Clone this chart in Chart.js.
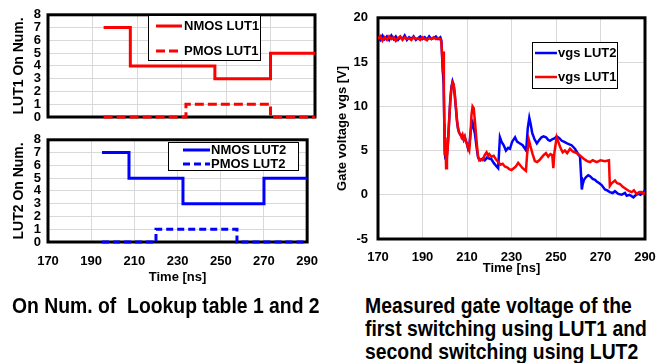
<!DOCTYPE html>
<html>
<head>
<meta charset="utf-8">
<script src="https://cdn.jsdelivr.net/npm/chart.js@4.4.1/dist/chart.umd.min.js"></script>
<style>
  body { margin: 0; background: #fff; width: 671px; height: 363px; overflow: hidden; position: relative; font-family: "Liberation Sans", Arial, sans-serif; }
  canvas { position: absolute; }
  .cap { position: absolute; font-weight: bold; font-size: 22px; line-height: 23px; transform: scaleX(0.88); transform-origin: 0 0; white-space: nowrap; color: #000; }
</style>
</head>
<body>
<canvas id="lut1" width="330" height="136" style="left:0;top:0"></canvas>
<canvas id="lut2" width="330" height="160" style="left:0;top:125px"></canvas>
<canvas id="vgs" width="341" height="280" style="left:330px;top:0"></canvas>
<div class="cap" style="left:12px;top:294px">On Num. of&nbsp; Lookup table 1 and 2</div>
<div class="cap" style="left:365px;top:294px">Measured gate voltage of the<br>first switching using LUT1 and<br>second switching using LUT2</div>
<script>
// Lookup table on-numbers (step values, held until the next time)
var nmos1Time = [195, 207, 245, 270, 290];
var nmos1On = [7, 4, 3, 5, 5];
var pmos1Time = [195, 232, 270, 290];
var pmos1On = [0, 1, 0, 0];
var nmos2Time = [195, 207.5, 232.5, 270, 290];
var nmos2On = [7, 5, 3, 5, 5];
var pmos2Time = [195, 220, 257.5, 290];
var pmos2On = [0, 1, 0, 0];

// measured gate voltage, first switching (LUT1)
var vgs1Time = [170, 171, 172, 173, 174, 175, 176, 177, 178, 179, 180, 181, 182, 183, 184, 185, 186, 187, 188, 189,
  190, 191, 192, 193, 194, 195, 196, 197, 198, 198.5, 199, 199.2, 199.4, 199.6, 199.8, 200, 200.3, 200.6, 201, 201.5,
  202, 202.5, 203, 203.5, 204, 204.5, 205, 205.5, 206, 206.5, 207, 207.5, 208, 208.5, 209, 209.5, 210, 210.5, 211, 211.5,
  212, 212.5, 213, 213.5, 214, 214.5, 215, 215.5, 216, 217, 218, 218.8, 219.5, 220, 221, 222, 223, 224, 225, 226,
  227, 228, 229, 230, 231, 232, 233, 234, 235, 236, 236.5, 237, 237.8, 238.5, 239.5, 240.5, 241.5, 242.5, 243.5, 244.5,
  245.5, 246.5, 247.5, 248.3, 248.8, 249.3, 250.3, 251, 252, 253, 254, 255, 256.3, 257.5, 259.3, 260.5, 262.3, 264, 265.3, 266.5,
  268.3, 270, 272, 273.8, 274.2, 275, 276.5, 277.5, 278.8, 280, 281.8, 283, 284, 285, 286.2, 287.5, 288.5, 289.3, 290];
var vgs1 = [17.6, 17.9, 17.4, 17.8, 17.5, 17.9, 17.6, 17.8, 17.4, 17.7, 17.9, 17.5, 17.8, 17.6, 17.7, 17.5, 17.8, 17.6, 17.7, 17.5,
  17.8, 17.6, 17.5, 17.7, 17.6, 17.8, 17.6, 17.7, 17.6, 17.2, 15.0, 13.8, 16.2, 12.0, 8.0, 4.5, 6.5, 3.0, 4.0, 6.0,
  8.5, 10.5, 12.0, 12.7, 12.5, 11.5, 10.0, 8.5, 7.5, 7.0, 6.8, 6.5, 6.8, 6.3, 6.6, 6.0, 5.8, 5.3, 5.0, 6.5,
  9.0, 10.0, 9.8, 8.5, 7.0, 5.5, 4.3, 3.9, 4.0, 3.9, 4.5, 4.8, 4.4, 4.6, 4.3, 4.4, 4.0, 3.7, 3.4, 3.5,
  3.2, 3.1, 2.9, 2.8, 3.0, 3.2, 3.6, 3.3, 3.0, 2.8, 2.7, 4.5, 6.2, 5.5, 4.6, 3.8, 3.7, 3.9, 4.2, 4.5,
  4.7, 4.3, 4.6, 4.5, 3.0, 4.8, 6.5, 6.0, 5.3, 4.8, 5.0, 4.7, 5.2, 4.9, 4.7, 4.5, 4.1, 3.8, 3.7, 3.9,
  3.7, 3.9, 3.8, 3.9, 1.0, 1.3, 1.6, 1.3, 1.2, 0.9, 0.6, 0.4, 0.3, 0.5, 0.1, 0.3, 0.3, 0.1, 0.3];

// measured gate voltage, second switching (LUT2)
var vgs2Time = [170, 171, 172, 173, 174, 175, 176, 177, 178, 179, 180, 181, 182, 183, 184, 185, 186, 187, 188, 189,
  190, 191, 192, 193, 194, 195, 196, 197, 198, 198.5, 199, 199.5, 200, 200.3, 200.7, 201, 201.5, 202, 202.5, 203,
  203.5, 204, 204.5, 205, 205.5, 206, 206.5, 207, 208, 208.5, 209, 209.5, 210, 210.5, 211, 211.5, 212, 212.5, 213, 213.5,
  214, 214.5, 215, 216, 217, 218, 219, 220, 221, 222, 223.3, 224, 224.8, 225.5, 226.5, 227.5, 228.5, 229.3, 230.3, 231.6,
  232.5, 233.8, 235, 236.1, 236.6, 237.3, 238, 238.6, 239.3, 240.3, 241.4, 242.5, 243.5, 244.4, 245.5, 246.5, 247.3, 248.5, 249.5, 250.3,
  251.5, 252.6, 253.5, 255, 256, 257, 258.5, 259.5, 260.2, 260.8, 261.3, 261.6, 262, 262.6, 263.5, 264.5, 265.3, 266.5, 267.5, 268.3,
  269.5, 270.5, 272, 273, 274.2, 275.5, 276.5, 278, 279.5, 281, 281.8, 283, 284.8, 286, 287, 288, 289.3, 290];
var vgs2 = [17.8, 17.5, 18.0, 17.6, 17.9, 17.5, 18.0, 17.6, 17.9, 17.5, 17.8, 17.6, 18.0, 17.5, 17.8, 17.6, 17.9, 17.5, 17.7, 17.9,
  17.6, 17.8, 17.5, 17.9, 17.6, 17.7, 17.9, 17.6, 17.8, 17.4, 14.5, 12.5, 5.0, 4.0, 5.5, 4.5, 6.2, 8.5, 10.8, 12.2,
  12.8, 12.4, 11.2, 9.8, 8.3, 7.4, 7.0, 6.8, 6.6, 6.2, 6.5, 6.1, 5.7, 5.2, 5.5, 6.8, 7.9, 8.2, 7.5, 7.0,
  6.0, 5.0, 4.2, 3.9, 4.1, 3.9, 4.2, 4.1, 4.0, 3.6, 3.2, 3.0, 6.5, 6.0, 5.6, 5.0, 5.3, 5.2, 6.0, 6.5,
  6.0, 5.8, 5.6, 5.2, 5.0, 7.5, 8.7, 8.0, 7.0, 6.3, 5.8, 6.2, 6.5, 6.6, 6.5, 6.2, 6.1, 6.3, 6.4, 6.6,
  6.4, 6.1, 6.0, 5.8, 5.7, 5.6, 5.2, 4.8, 4.5, 4.3, 2.0, 0.6, 1.2, 1.7, 2.0, 2.2, 2.1, 1.8, 1.7, 1.5,
  1.3, 1.1, 0.6, 0.5, 0.3, 0.2, 0.4, 0.1, 0.0, 0.2, -0.1, 0.0, -0.3, 0.0, 0.1, 0.0, 0.3, 0.5];

function pts(xs, ys) {
  return xs.map(function (x, i) { return { x: x, y: ys[i] }; });
}

Chart.defaults.font.family = '"Liberation Sans", Arial, sans-serif';
Chart.defaults.font.weight = 'bold';
Chart.defaults.font.size = 13;
Chart.defaults.color = '#000';
Chart.defaults.animation = false;

// thick black box round the plot area
var frame = {
  id: 'frame',
  beforeDatasetsDraw: function (chart) {
    var a = chart.chartArea, ctx = chart.ctx;
    ctx.save();
    ctx.strokeStyle = '#000';
    ctx.lineWidth = 3;
    ctx.strokeRect(a.left, a.top, a.right - a.left, a.bottom - a.top);
    ctx.restore();
  }
};

// boxed legend inside the plot
var boxLegend = {
  id: 'boxLegend',
  afterDatasetsDraw: function (chart, args, o) {
    var ctx = chart.ctx;
    ctx.save();
    ctx.fillStyle = '#fff';
    ctx.fillRect(o.x, o.y, o.w, o.h);
    ctx.strokeStyle = '#000';
    ctx.lineWidth = 1;
    ctx.strokeRect(o.x + 0.5, o.y + 0.5, o.w, o.h);
    ctx.font = 'bold 13px "Liberation Sans", Arial, sans-serif';
    ctx.textBaseline = 'middle';
    chart.data.datasets.forEach(function (ds, i) {
      var y = o.rows[i];
      ctx.strokeStyle = ds.borderColor;
      ctx.lineWidth = ds.borderWidth;
      ctx.setLineDash(ds.borderDash || []);
      ctx.beginPath();
      ctx.moveTo(o.x0, y);
      ctx.lineTo(o.x1, y);
      ctx.stroke();
      ctx.setLineDash([]);
      ctx.fillStyle = '#000';
      ctx.fillText(ds.label, o.tx, y);
    });
    ctx.restore();
  }
};

function timeAxis(show, tickPad, titlePad, h) {
  return {
    type: 'linear', min: 170, max: 290,
    ticks: { display: show, stepSize: 20, padding: tickPad },
    grid: { color: '#d9d9d9', drawTicks: false },
    border: { display: false },
    title: { display: show, text: 'Time [ns]', padding: { top: 0, bottom: titlePad } },
    afterFit: function (s) { s.height = h; }
  };
}

function onAxis(title) {
  return {
    min: 0, max: 8,
    ticks: { stepSize: 1, padding: 7, autoSkip: false },
    grid: { color: '#d9d9d9', drawTicks: false },
    border: { display: false },
    title: { display: true, text: title, font: { size: 14 }, padding: { top: 11, bottom: 0 } },
    afterFit: function (s) { s.width = 48; }
  };
}

function stepSet(label, color, xs, ys, dash) {
  return {
    label: label, data: pts(xs, ys), borderColor: color, backgroundColor: color,
    borderWidth: 3, borderDash: dash, stepped: true, pointRadius: 0, clip: false
  };
}

new Chart(document.getElementById('lut1'), {
  type: 'line',
  data: {
    datasets: [
      stepSet('NMOS LUT1', '#ff0000', nmos1Time, nmos1On, []),
      stepSet('PMOS LUT1', '#ff0000', pmos1Time, pmos1On, [9, 4])
    ]
  },
  options: {
    responsive: false,
    layout: { padding: { top: 13, right: 15, bottom: 3, left: 0 } },
    plugins: {
      legend: { display: false }, tooltip: { enabled: false },
      boxLegend: { x: 148, y: 15, w: 112, h: 45, rows: [26, 51], x0: 156, x1: 182, tx: 184 }
    },
    scales: { x: timeAxis(false, 0, 0, 16), y: onAxis('LUT1 On Num.') }
  },
  plugins: [frame, boxLegend]
});

new Chart(document.getElementById('lut2'), {
  type: 'line',
  data: {
    datasets: [
      stepSet('NMOS LUT2', '#0000ff', nmos2Time, nmos2On, []),
      stepSet('PMOS LUT2', '#0000ff', pmos2Time, pmos2On, [7, 4])
    ]
  },
  options: {
    responsive: false,
    layout: { padding: { top: 13, right: 15, bottom: 0, left: 0 } },
    plugins: {
      legend: { display: false }, tooltip: { enabled: false },
      boxLegend: { x: 168, y: 17, w: 130, h: 28, rows: [25, 39], x0: 183, x1: 210, tx: 211 }
    },
    scales: { x: timeAxis(true, 12, 0, 43), y: onAxis('LUT2 On Num.') }
  },
  plugins: [frame, boxLegend]
});

new Chart(document.getElementById('vgs'), {
  type: 'line',
  data: {
    datasets: [
      { label: 'vgs LUT2', data: pts(vgs2Time, vgs2), borderColor: '#0000ff', borderWidth: 2.5,
        pointRadius: 0, order: 1 },
      { label: 'vgs LUT1', data: pts(vgs1Time, vgs1), borderColor: '#ff0000', borderWidth: 2.5,
        pointRadius: 0, order: 0 }
    ]
  },
  options: {
    responsive: false,
    layout: { padding: { top: 13, right: 26, bottom: 0, left: 0 } },
    plugins: {
      legend: { display: false }, tooltip: { enabled: false },
      boxLegend: { x: 202, y: 42, w: 85, h: 46, rows: [53, 77], x0: 205, x1: 227, tx: 228 }
    },
    scales: {
      x: timeAxis(true, 11, 4, 41),
      y: {
        min: -5, max: 20,
        ticks: { stepSize: 5, padding: 10 },
        grid: { color: '#d9d9d9', drawTicks: false },
        border: { display: false },
        title: { display: true, text: 'Gate voltage vgs [V]', padding: { top: 5, bottom: 0 } },
        afterFit: function (s) { s.width = 48; }
      }
    }
  },
  plugins: [frame, boxLegend]
});
</script>
</body>
</html>
